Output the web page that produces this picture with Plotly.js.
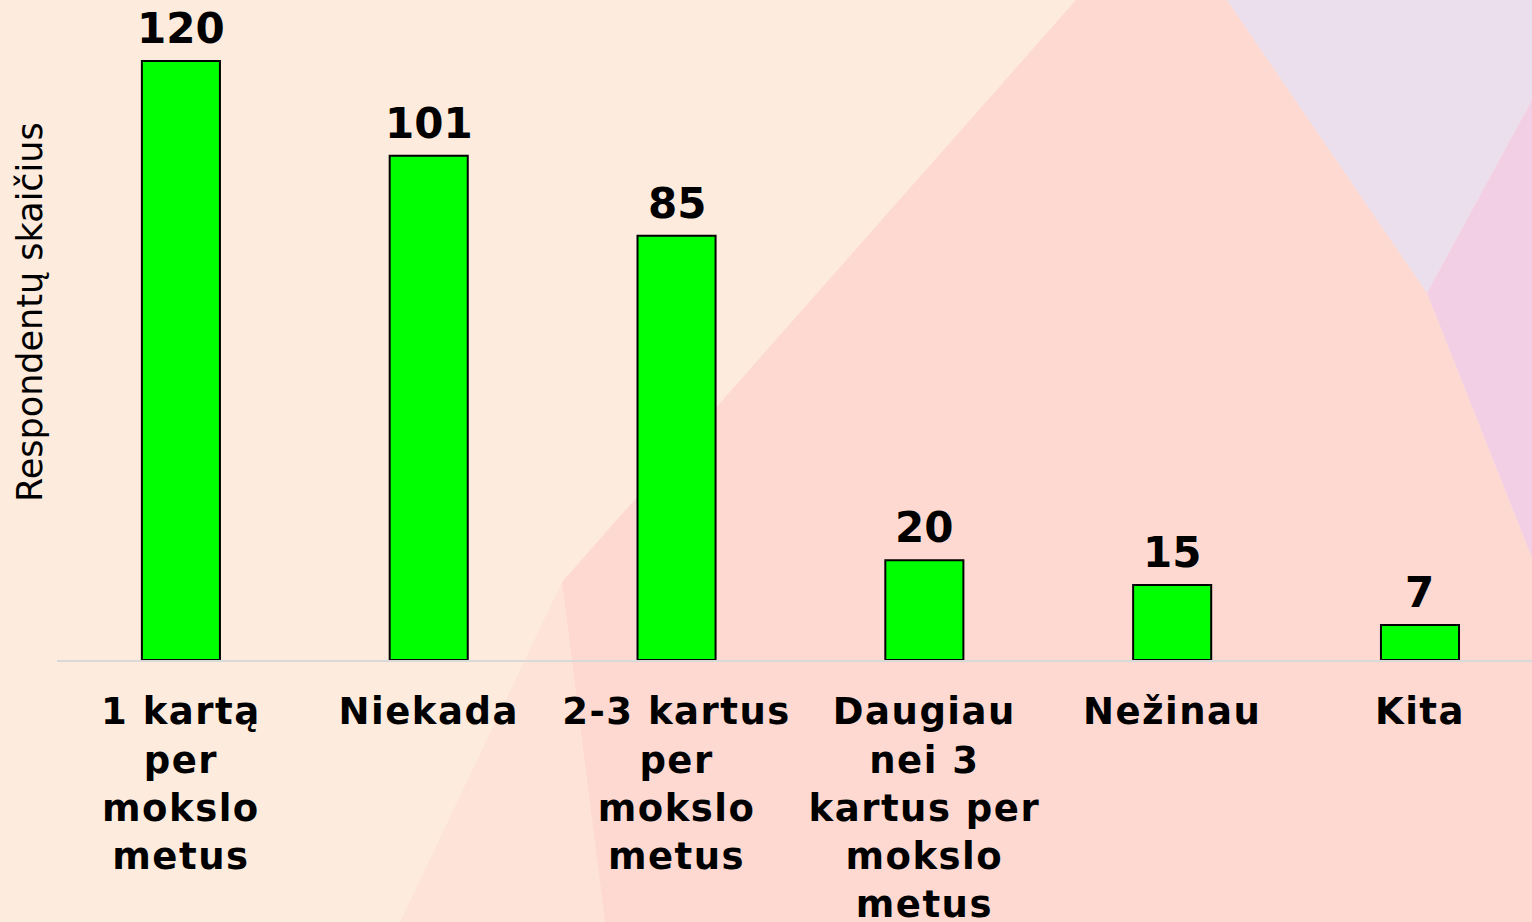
<!DOCTYPE html>
<html>
<head>
<meta charset="utf-8">
<script src="https://cdn.plot.ly/plotly-3.0.1.min.js"></script>
<style>
html,body{margin:0;padding:0;overflow:hidden;background:#fdebdd;}
.xtick text{letter-spacing:1.5px;}
</style>
</head>
<body>
<div id="chart" style="width:1532px;height:922px;"></div>
<script>
var categories = [
  "1 kartą<br>per<br>mokslo<br>metus",
  "Niekada",
  "2-3 kartus<br>per<br>mokslo<br>metus",
  "Daugiau<br>nei 3<br>kartus per<br>mokslo<br>metus",
  "Nežinau",
  "Kita"
];
var values = [120, 101, 85, 20, 15, 7];
var yTitle = "Respondentų skaičius";

var W = 1532, H = 922;
var M = {l: 57, r: 0, t: 20, b: 262};
var PW = W - M.l - M.r, PH = H - M.t - M.b;
function px(x) { return (x - M.l) / PW; }
function py(y) { return (H - M.b - y) / PH; }
function poly(pts) {
  return pts.map(function (p, i) { return (i ? "L" : "M") + px(p[0]) + "," + py(p[1]); }).join(" ") + " Z";
}
var shapes = [
  {type: "path", xref: "paper", yref: "paper", layer: "below", line: {width: 0}, fillcolor: "#fde3d8",
   path: poly([[562,582],[605,922],[400,922]])},
  {type: "path", xref: "paper", yref: "paper", layer: "below", line: {width: 0}, fillcolor: "#fdd9d1",
   path: poly([[1076,0],[1227,0],[1427,293],[1532,558],[1532,922],[605,922],[562,582]])},
  {type: "path", xref: "paper", yref: "paper", layer: "below", line: {width: 0}, fillcolor: "#ebdeed",
   path: poly([[1227,0],[1532,0],[1532,100],[1427,293]])},
  {type: "path", xref: "paper", yref: "paper", layer: "below", line: {width: 0}, fillcolor: "#f2cfe4",
   path: poly([[1532,100],[1427,293],[1532,558]])}
];

var trace = {
  type: "bar",
  x: categories,
  y: values,
  marker: {color: "#00ff00", line: {color: "#000", width: 2}},
  width: 0.315,
  hoverinfo: "none"
};

var labelAnnotations = categories.map(function (c, i) {
  return {
    x: c, y: values[i], xref: "x", yref: "y",
    text: String(values[i]), showarrow: false,
    xanchor: "center", yanchor: "bottom", yshift: 6,
    font: {family: "DejaVu Sans", size: 42, color: "#000", weight: "bold"}
  };
});

var layout = {
  width: W, height: H,
  margin: M,
  paper_bgcolor: "#fdebdd",
  plot_bgcolor: "rgba(0,0,0,0)",
  showlegend: false,
  shapes: shapes,
  xaxis: {
    type: "category",
    range: [-0.5, 5.452],
    showgrid: false, zeroline: false,
    showline: true, linecolor: "#d9d9d9", linewidth: 2,
    ticks: "",
    ticklabelstandoff: 18,
    tickfont: {family: "DejaVu Sans", size: 37, color: "#000", weight: "bold"}
  },
  yaxis: {
    range: [0, 128.2],
    showgrid: false, zeroline: false, showline: false,
    showticklabels: false, ticks: ""
  },
  annotations: labelAnnotations.concat([{
    text: yTitle, xref: "paper", yref: "paper",
    x: px(30), y: py(312), xanchor: "center", yanchor: "middle",
    textangle: -90, showarrow: false,
    font: {family: "DejaVu Sans", size: 35, color: "#000"}
  }])
};

Plotly.newPlot("chart", [trace], layout, {displayModeBar: false, staticPlot: true});
</script>
</body>
</html>
